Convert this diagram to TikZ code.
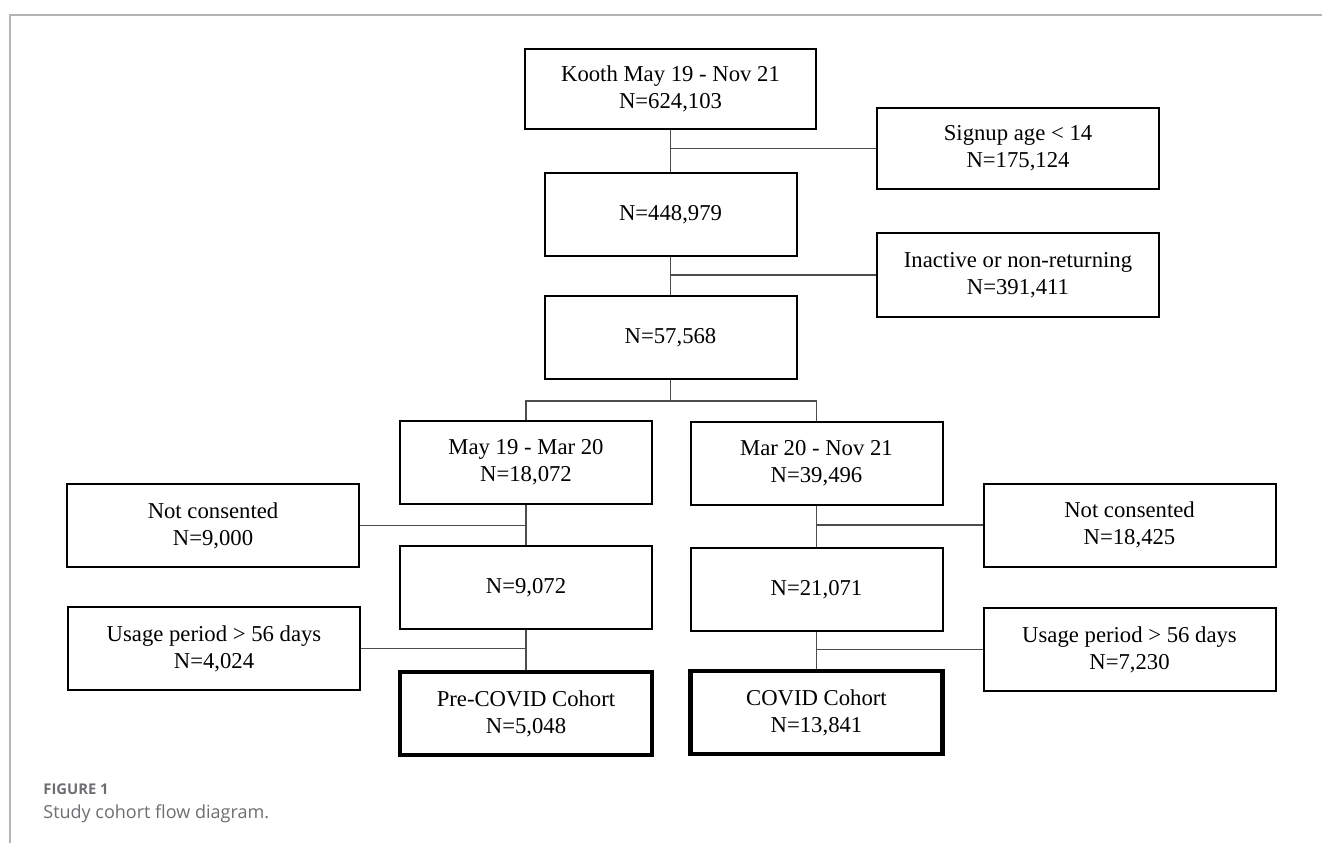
\documentclass[tikz,border=0pt]{standalone}
\usepackage{fontspec}
\setmainfont{Liberation Serif}
\newfontfamily\capfont{Open Sans}
\definecolor{capgray}{HTML}{6D6E71}
\definecolor{framegray}{HTML}{B4B4B4}

\begin{document}
\begin{tikzpicture}[x=0.5pt, y=-0.5pt,
    flowbox/.style={draw, line width=1pt, align=center, inner sep=0pt,
        font=\fontsize{11.35}{13.5}\selectfont},
    mainbox/.style={flowbox, minimum width=126pt, minimum height=41.5pt},
    sidebox/.style={flowbox, minimum width=146pt, minimum height=41.5pt},
    cohort/.style={mainbox, line width=2.4pt},
    link/.style={draw=black!70, line width=0.6pt},
    caption/.style={anchor=base west, inner sep=0pt, text=capgray}]
    \useasboundingbox (0,0) rectangle (1322,843);
    % frame
    \draw[framegray, line width=0.75pt] (10,843) -- (10,15) -- (1322,15);

    % main column
    \node[flowbox, minimum width=145.5pt, minimum height=40pt] (kooth) at (670.5,89)
        {Kooth May 19 - Nov 21\\N=624,103};
    \node[mainbox] (n448) at (670.5,214.5) {N=448,979};
    \node[mainbox] (n57) at (670.5,337.5) {N=57,568};
    \node[flowbox, minimum width=141pt, minimum height=40.5pt] (signup) at (1018,148.5)
        {Signup age < 14\\N=175,124};
    \node[flowbox, minimum width=141pt, minimum height=42pt] (inactive) at (1018,275)
        {Inactive or non-returning\\N=391,411};

    % two periods
    \node[mainbox] (may) at (526,462.5) {May 19 - Mar 20\\N=18,072};
    \node[mainbox] (mar) at (816.5,463) {Mar 20 - Nov 21\\N=39,496};
    \node[mainbox] (n9072) at (526,587.5) {N=9,072};
    \node[mainbox] (n21071) at (816.5,589.5) {N=21,071};
    \node[cohort] (pre) at (526,713.5) {Pre-COVID Cohort\\N=5,048};
    \node[cohort] (covid) at (816.5,712.5) {COVID Cohort\\N=13,841};

    % exclusions
    \node[sidebox] (notconL) at (213,525.5) {Not consented\\N=9,000};
    \node[sidebox] (usageL) at (214,648.5) {Usage period > 56 days\\N=4,024};
    \node[sidebox] (notconR) at (1129.5,525) {Not consented\\N=18,425};
    \node[sidebox] (usageR) at (1129.5,649.5) {Usage period > 56 days\\N=7,230};

    % links
    \draw[link] (kooth) -- (n448);
    \draw[link] (signup.west) -- (signup.west -| kooth.south);
    \draw[link] (n448) -- (n57);
    \draw[link] (inactive.west) -- (inactive.west -| n448.south);
    \coordinate (split) at (670.5,401);
    \draw[link] (n57) -- (split);
    \draw[link] (may) |- (split) -| (mar);

    \draw[link] (may) -- (n9072);
    \draw[link] (notconL.east) -- (notconL.east -| may.south);
    \draw[link] (n9072) -- (pre);
    \draw[link] (usageL.east) -- (usageL.east -| n9072.south);
    \draw[link] (mar) -- (n21071);
    \draw[link] (notconR.west) -- (notconR.west -| mar.south);
    \draw[link] (n21071) -- (covid);
    \draw[link] (usageR.west) -- (usageR.west -| n21071.south);

    % caption
    \node[caption, font=\capfont\bfseries\fontsize{7.4}{9}\selectfont] (figlabel) at (43,794) {FIGURE 1};
    \node[caption, font=\capfont\fontsize{9}{11}\selectfont] (figtitle) at (43,818) {Study cohort flow diagram.};
\end{tikzpicture}
\end{document}
